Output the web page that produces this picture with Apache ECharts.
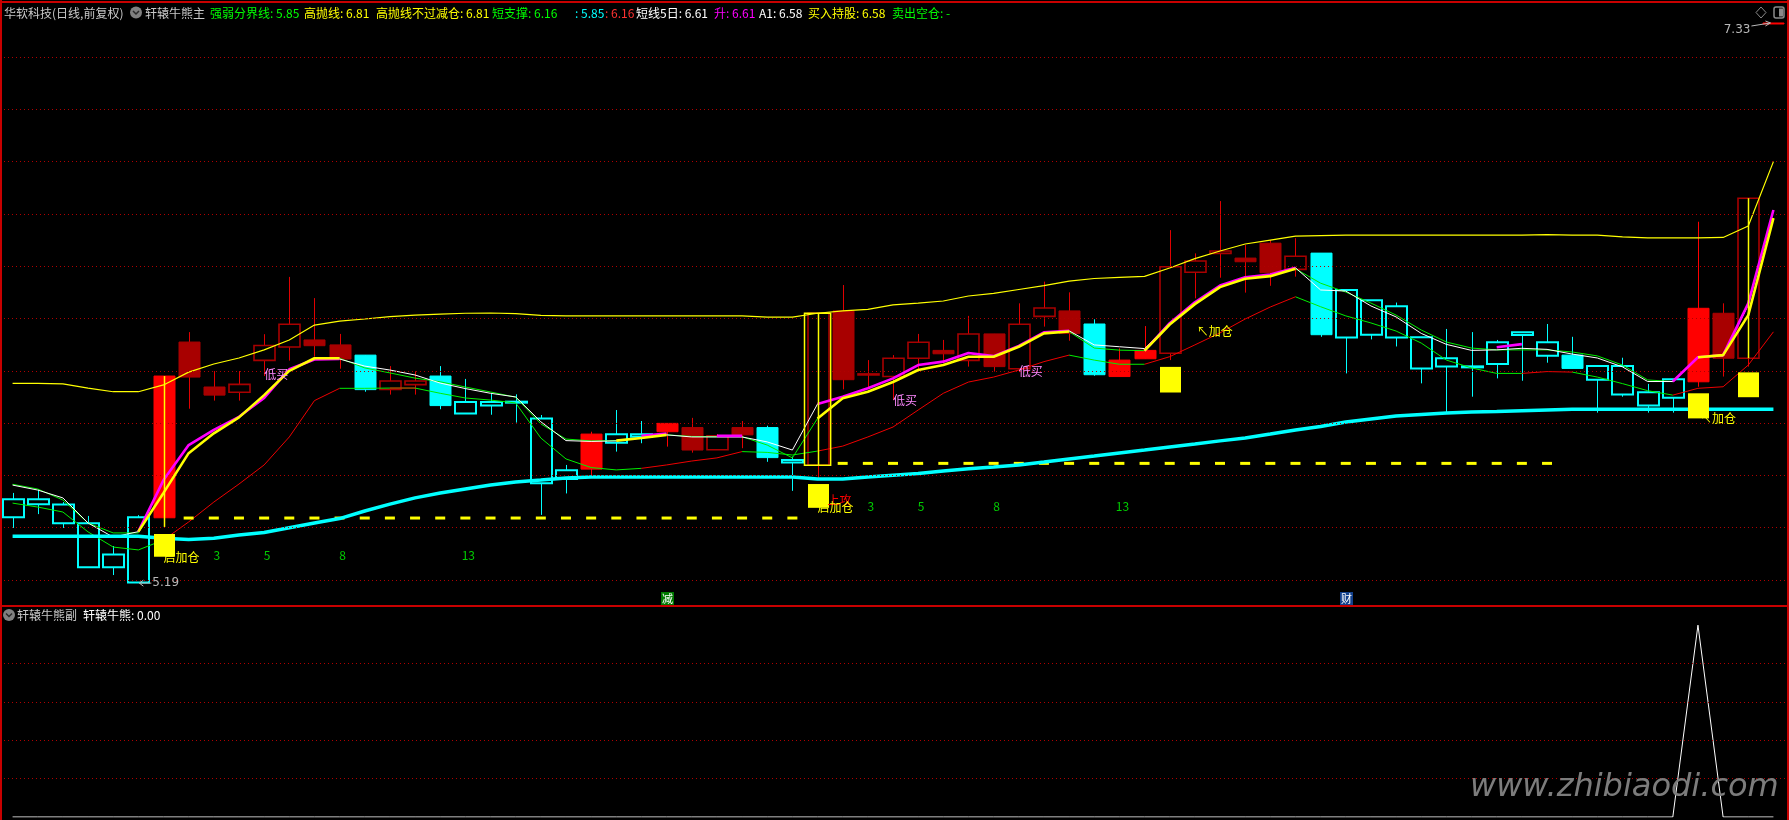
<!DOCTYPE html>
<html>
<head>
<meta charset="utf-8">
<script src="https://cdn.jsdelivr.net/npm/echarts@6.0.0/dist/echarts.min.js"></script>
<style>
html,body{margin:0;padding:0;background:#000;overflow:hidden;}
#chart{width:1789px;height:820px;}
</style>
</head>
<body>
<div id="chart"></div>
<script>
// ---------------- data ----------------
const days = Array.from({length: 71}, (_, i) => 'D' + (i + 1));

const openP = [5.44,5.49,5.417,5.249,5.249,5.19,5.438,6.11,5.938,5.918,
 6.04,6.091,6.118,6.099,6.06,5.929,5.947,5.98,5.837,5.867,
 5.881,5.57,5.586,5.624,5.725,5.748,5.767,5.783,5.698,5.783,
 5.783,5.649,5.639,6.229,5.987,5.978,6.048,6.078,6.04,6.141,
 6.008,6.208,6.229,6.179,5.978,6.046,6.067,6.377,6.449,6.431,
 6.488,6.388,6.45,6.127,6.138,6.127,6.009,6.016,6.016,6.026,
 6.137,6.058,6.06,5.966,5.909,5.867,5.897,5.958,6.22,6.048,
 7.33];
const closeP = [5.509,5.509,5.489,5.417,5.298,5.44,5.98,5.976,5.907,5.948,
 6.097,6.178,6.096,6.045,5.928,5.961,5.961,5.867,5.881,5.881,
 5.882,5.818,5.62,5.758,5.757,5.757,5.799,5.697,5.751,5.755,
 5.668,5.659,6.22,5.966,5.988,6.048,6.109,6.065,6.141,6.016,
 6.178,6.24,6.143,5.985,6.041,6.078,6.398,6.42,6.458,6.417,
 6.375,6.438,6.138,6.309,6.27,6.247,6.128,6.048,6.017,6.109,
 6.147,6.109,6.009,6.018,6.018,5.918,5.968,6.239,6.048,6.66,
 7.33];
const lowP = [5.399,5.452,5.399,5.249,5.219,5.19,5.399,5.855,5.886,5.886,
 5.98,6.039,6.054,6.008,5.92,5.909,5.909,5.853,5.837,5.832,
 5.802,5.449,5.531,5.6,5.691,5.723,5.71,5.687,5.698,5.704,
 5.652,5.541,5.586,5.929,5.937,5.888,5.997,6.029,6.016,5.997,
 5.995,6.169,6.115,5.981,5.978,6.046,6.041,6.277,6.356,6.299,
 6.325,6.36,6.13,5.99,6.12,6.093,5.952,5.84,5.901,5.971,
 5.962,6.031,6.009,5.84,5.901,5.84,5.84,5.939,5.978,6.016,
 7.33];
const highP = [5.533,5.547,5.498,5.445,5.33,5.448,5.98,6.148,5.999,5.999,
 6.14,6.359,6.278,6.141,6.06,6.018,5.998,6.018,5.969,5.914,
 5.91,5.831,5.64,5.767,5.85,5.808,5.799,5.82,5.758,5.808,
 5.79,5.672,6.22,6.328,6.041,6.06,6.141,6.118,6.21,6.141,
 6.258,6.341,6.3,6.197,6.086,6.171,6.538,6.449,6.649,6.481,
 6.5,6.507,6.45,6.309,6.27,6.261,6.128,6.16,6.148,6.118,
 6.147,6.179,6.13,6.018,6.05,5.95,5.968,6.57,6.258,6.66,
 7.33];
// W = weak (cyan), S = strong (dark red), B = breakout (bright red)
const barState = ['W','W','W','W','W','W','B','S','S','S',
 'S','S','S','S','W','S','S','W','W','W',
 'W','W','W','B','W','W','B','S','S','S',
 'W','W','S','S','S','S','S','S','S','S',
 'S','S','S','W','B','B','S','S','S','S',
 'S','S','W','W','W','W','W','W','W','W',
 'W','W','W','W','W','W','W','B','S','S',
 'B'];

// 高抛线
const highSell = [5.952,5.952,5.95,5.934,5.92,5.92,5.946,5.995,6.026,6.049,
 6.08,6.118,6.175,6.19,6.198,6.207,6.213,6.217,6.22,6.221,
 6.219,6.212,6.21,6.21,6.21,6.21,6.21,6.21,6.21,6.21,
 6.205,6.205,6.22,6.229,6.235,6.252,6.259,6.267,6.286,6.296,
 6.311,6.326,6.343,6.353,6.357,6.361,6.393,6.429,6.458,6.485,
 6.5,6.515,6.517,6.519,6.519,6.519,6.519,6.519,6.519,6.519,
 6.519,6.521,6.519,6.519,6.512,6.508,6.508,6.508,6.51,6.554,
 6.8];
// 强弱分界线 (thick cyan)
const strongWeak = [5.367,5.367,5.367,5.367,5.367,5.367,5.36,5.355,5.36,5.372,
 5.382,5.4,5.418,5.435,5.464,5.49,5.514,5.533,5.548,5.563,
 5.575,5.582,5.59,5.594,5.594,5.594,5.594,5.594,5.594,5.594,
 5.594,5.594,5.586,5.586,5.594,5.601,5.607,5.617,5.625,5.632,
 5.64,5.651,5.663,5.674,5.686,5.697,5.709,5.72,5.732,5.743,
 5.758,5.774,5.787,5.804,5.816,5.827,5.833,5.839,5.842,5.844,
 5.847,5.85,5.853,5.853,5.853,5.853,5.853,5.853,5.853,5.853,
 5.853];
// 短支撑 (thin red / green)
const shortSupport = [5.494,5.479,5.46,5.384,5.326,5.315,5.353,5.422,5.498,5.567,
 5.64,5.747,5.886,5.933,5.933,5.934,5.934,5.914,5.896,5.888,
 5.877,5.743,5.663,5.63,5.621,5.627,5.64,5.655,5.667,5.691,
 5.688,5.678,5.693,5.712,5.747,5.785,5.85,5.914,5.957,5.976,
 6.003,6.035,6.06,6.041,6.025,6.025,6.054,6.099,6.145,6.198,
 6.244,6.283,6.245,6.21,6.183,6.152,6.106,6.041,6.011,5.99,
 5.99,5.997,5.995,5.976,5.951,5.924,5.907,5.933,5.939,6.022,
 6.149];
const supportRisingRanges = [[6,13],[15,16],[25,29],[32,42],[45,51],[60,62],[66,70]];
// 短线5日 (white)
const short5 = [5.563,5.544,5.514,5.418,5.364,5.385,5.582,5.716,5.774,5.824,
 5.896,6.006,6.043,6.045,6.018,6.003,5.984,5.953,5.932,5.914,
 5.9,5.805,5.733,5.73,5.732,5.743,5.755,5.747,5.747,5.747,
 5.728,5.697,5.873,5.901,5.933,5.971,6.022,6.035,6.068,6.053,
 6.095,6.147,6.153,6.099,6.092,6.085,6.182,6.262,6.326,6.358,
 6.368,6.394,6.309,6.305,6.248,6.206,6.143,6.101,6.078,6.08,
 6.086,6.082,6.064,6.049,6.015,5.959,5.959,6.052,6.057,6.252,
 6.615];
// A1
const a1 = [5.566,5.548,5.506,5.418,5.38,5.38,5.533,5.685,5.761,5.822,
 5.907,6.0,6.048,6.048,6.011,5.992,5.972,5.958,5.938,5.919,
 5.899,5.797,5.739,5.732,5.733,5.743,5.755,5.749,5.748,5.748,
 5.716,5.667,5.818,5.895,5.92,5.957,6.003,6.022,6.054,6.054,
 6.092,6.143,6.15,6.087,6.079,6.077,6.177,6.255,6.32,6.352,
 6.362,6.39,6.335,6.301,6.259,6.213,6.156,6.11,6.087,6.08,
 6.08,6.08,6.072,6.057,6.022,5.965,5.959,6.052,6.06,6.213,
 6.584];
// 升 (magenta)
const rise = [null,null,null,null,null,5.385,5.582,5.716,5.774,5.824,
 5.896,6.006,6.043,6.045,null,null,null,null,null,null,
 null,null,null,null,null,5.751,5.76,null,5.751,5.751,
 null,null,5.873,5.901,5.933,5.971,6.022,6.035,6.068,6.056,
 6.095,6.147,6.153,null,null,6.077,6.182,6.262,6.326,6.358,
 6.368,6.394,null,null,null,null,null,null,null,6.09,
 6.102,null,null,null,null,null,5.959,6.052,6.06,6.258,
 6.615];
// 买入持股 (thick yellow)
const holdBuy = [null,null,null,null,null,5.385,5.533,5.685,5.761,5.822,
 5.907,6.0,6.048,6.048,null,null,null,null,null,null,
 null,null,null,null,5.733,5.743,5.755,null,null,null,
 null,null,5.818,5.895,5.92,5.957,6.003,6.022,6.054,6.054,
 6.092,6.143,6.15,null,null,6.077,6.177,6.255,6.32,6.352,
 6.362,6.39,null,null,null,null,null,null,null,null,
 null,null,null,null,null,null,null,6.052,6.06,6.213,
 6.584];
// 轩辕牛熊 (sub panel)
const bullBear = [0,0,0,0,0,0,0,0,0,0, 0,0,0,0,0,0,0,0,0,0,
 0,0,0,0,0,0,0,0,0,0, 0,0,0,0,0,0,0,0,0,0,
 0,0,0,0,0,0,0,0,0,0, 0,0,0,0,0,0,0,0,0,0,
 0,0,0,0,0,0,0,5,0,0, 0];

// signal sticks
const stickIdx = [6, 32, 69];
const stickTop = [5.98, 6.22, 6.66];
const stickBottom = [5.403, 5.639, 6.048];
const frameIdx = [32];
const frameTop = [6.22];
const frameBottom = [5.639];
// yellow blocks
const blockIdx = [6, 32, 46, 67, 69];
const blockTop = [5.376, 5.567, 6.015, 5.914, 5.994];
const blockBottom = [5.289, 5.476, 5.917, 5.818, 5.899];
// dashed base lines
const baseLevel = [5.437, 5.646];
const baseStart = [7, 33];
const baseEnd = [31, 61];
// annotations
const noteIdx   = [10, 35, 40, 47, 67, 32, 6, 32, 8, 10, 13, 18, 34, 36, 39, 44];
const notePrice = [5.988, 5.888, 5.997, 6.149, 5.819, 5.506, 5.288, 5.479, 5.293, 5.293, 5.293, 5.293, 5.48, 5.48, 5.48, 5.48];
const noteText  = ['低买','低买','低买','↖加仓','↖加仓','上攻','启加仓','启加仓','3','5','8','13','3','5','8','13'];
const noteKind  = ['low','low','low','add','add','attack','start','start','count','count','count','count','count','count','count','count'];
// info markers at the bottom of the main panel
const infoIdx = [26, 53];
const infoText = ['减', '财'];
const infoKind = ['cut', 'money'];
// grid levels
const mainGridLevels = [5.2,5.4,5.6,5.8,6.0,6.2,6.4,6.6,6.8,7.0,7.2];
const subGridLevels = [1,2,3,4];

// ---------------- build ----------------
const stateCode = {W: 0, S: 1, B: 2};
const candleData = days.map((d, i) => [i, openP[i], closeP[i], lowP[i], highP[i], stateCode[barState[i]]]);
const inRise = i => supportRisingRanges.some(r => i >= r[0] && i <= r[1]);
const supRed = shortSupport.map((v, i) => inRise(i) ? v : null);
const supGreen = shortSupport.map((v, i) => {
  if (!inRise(i)) return v;
  if (supportRisingRanges.some(r => i === r[0] || i === r[1])) return v;
  return null;
});
const dashData = [];
baseLevel.forEach((lv, k) => { for (let i = baseStart[k]; i <= baseEnd[k]; i++) dashData.push([i, lv]); });
const stickData = stickIdx.map((x, k) => [x, stickTop[k], stickBottom[k]]);
const frameData = frameIdx.map((x, k) => [x, frameTop[k], frameBottom[k]]);
const blockData = blockIdx.map((x, k) => [x, blockTop[k], blockBottom[k]]);
const noteData = noteIdx.map((x, k) => [x, notePrice[k]]);
const infoData = infoIdx.map(x => [x, 5.2]);
const extremeData = [[5, lowP[5]], [70, highP[70]]];

const CJK = '"Noto Sans CJK SC", "Noto Sans", sans-serif';

function renderCandle(params, api) {
  const i = api.value(0), o = api.value(1), c = api.value(2), l = api.value(3), h = api.value(4), st = api.value(5);
  const p0 = api.coord([i, o]);
  const xc = Math.round(p0[0]) + 0.5;
  const w = Math.round(api.size([1, 0])[0] * 0.82);
  const yO = p0[1], yC = api.coord([i, c])[1], yL = api.coord([i, l])[1], yH = api.coord([i, h])[1];
  const yTop = Math.min(yO, yC), yBot = Math.max(yO, yC);
  const up = c >= o;
  let stroke, fill, wick, hollow, lw;
  if (st === 0) { stroke = '#00ffff'; wick = '#00ffff'; hollow = up; fill = hollow ? '#000' : '#00ffff'; lw = hollow ? 2 : 1; }
  else if (st === 1) { stroke = '#a80000'; wick = '#e00000'; hollow = up; fill = hollow ? '#000' : '#a80000'; lw = hollow ? 1.6 : 1; }
  else { stroke = '#ff0000'; wick = '#ff0000'; hollow = false; fill = '#ff0000'; lw = 1; }
  const bh = Math.max(yBot - yTop, 1);
  return {
    type: 'group',
    children: [
      {type: 'line', shape: {x1: xc, y1: yH, x2: xc, y2: yL}, style: {stroke: wick, lineWidth: 1}},
      {type: 'rect', shape: {x: xc - w / 2, y: yTop, width: w, height: bh}, style: {fill: fill, stroke: stroke, lineWidth: lw}}
    ]
  };
}
function renderDash(params, api) {
  const p = api.coord([api.value(0), api.value(1)]);
  return {type: 'line', shape: {x1: p[0] - 5, y1: p[1], x2: p[0] + 5, y2: p[1]}, style: {stroke: '#ffff00', lineWidth: 3}};
}
function renderStick(params, api) {
  const a = api.coord([api.value(0), api.value(1)]);
  const b = api.coord([api.value(0), api.value(2)]);
  const x = Math.round(a[0]) + 0.5;
  return {type: 'line', shape: {x1: x, y1: a[1], x2: x, y2: b[1]}, style: {stroke: '#ffff00', lineWidth: 1.5}};
}
function renderFrame(params, api) {
  const a = api.coord([api.value(0), api.value(1)]);
  const b = api.coord([api.value(0), api.value(2)]);
  const w = api.size([1, 0])[0] + 1;
  return {type: 'rect', shape: {x: Math.round(a[0] - w / 2) + 0.5, y: a[1], width: w, height: b[1] - a[1]}, style: {fill: 'transparent', stroke: '#ffff00', lineWidth: 1.5}};
}
function renderBlock(params, api) {
  const a = api.coord([api.value(0), api.value(1)]);
  const b = api.coord([api.value(0), api.value(2)]);
  const w = Math.round(api.size([1, 0])[0] * 0.82);
  return {type: 'rect', shape: {x: Math.round(a[0]) + 0.5 - w / 2, y: a[1], width: w, height: b[1] - a[1]}, style: {fill: '#ffff00'}};
}
const noteStyle = {
  low: {fill: '#ff88ff', align: 'left', dx: 0},
  add: {fill: '#ffff00', align: 'left', dx: 2},
  start: {fill: '#ffff00', align: 'left', dx: 0},
  attack: {fill: '#ff0000', align: 'left', dx: 10},
  count: {fill: '#00cc00', align: 'center', dx: 3}
};
function renderNote(params, api) {
  const k = params.dataIndex;
  const p = api.coord([api.value(0), api.value(1)]);
  const s = noteStyle[noteKind[k]];
  return {type: 'text', x: p[0] + s.dx, y: p[1], style: {text: noteText[k], fill: s.fill, font: '12px ' + CJK, align: s.align, verticalAlign: 'middle'}};
}
function renderInfo(params, api) {
  const k = params.dataIndex;
  const p = api.coord([api.value(0), api.value(1)]);
  const bottom = params.coordSys.y + params.coordSys.height;
  const bg = infoKind[k] === 'cut' ? '#007a00' : '#12408c';
  return {type: 'group', children: [
    {type: 'rect', shape: {x: Math.round(p[0]) - 6, y: bottom - 14, width: 13, height: 13}, style: {fill: bg}},
    {type: 'text', x: Math.round(p[0]) + 0.5, y: bottom - 7.5, style: {text: infoText[k], fill: '#ffffff', font: '11px ' + CJK, align: 'center', verticalAlign: 'middle'}}
  ]};
}
function renderExtreme(params, api) {
  const v = api.value(1);
  const p = api.coord([api.value(0), v]);
  const txt = v.toFixed(2);
  const col = '#b8b8b8';
  if (params.dataIndex === 0) {
    const x = p[0], y = p[1] + 0.5;
    return {type: 'group', children: [
      {type: 'polyline', shape: {points: [[x + 5, y - 3], [x + 1, y], [x + 5, y + 3]]}, style: {stroke: col, fill: 'transparent', lineWidth: 1}},
      {type: 'line', shape: {x1: x + 1, y1: y, x2: x + 13, y2: y}, style: {stroke: col, lineWidth: 1}},
      {type: 'text', x: x + 14, y: y, style: {text: txt, fill: col, font: '12px "DejaVu Sans", sans-serif', align: 'left', verticalAlign: 'middle'}}
    ]};
  }
  const x = p[0], y = p[1];
  return {type: 'group', children: [
    {type: 'text', x: x - 23, y: y + 7, style: {text: txt, fill: col, font: '12px "DejaVu Sans", sans-serif', align: 'right', verticalAlign: 'middle'}},
    {type: 'line', shape: {x1: x - 22, y1: y + 3, x2: x - 3, y2: y}, style: {stroke: col, lineWidth: 1}},
    {type: 'polyline', shape: {points: [[x - 8, y - 2], [x - 3, y], [x - 8, y + 3]]}, style: {stroke: col, fill: 'transparent', lineWidth: 1}}
  ]};
}

function lineSeries(name, data, color, width, z) {
  return {name, type: 'line', data, xAxisIndex: 0, yAxisIndex: 0, symbol: 'none', silent: true,
    connectNulls: false, z, lineStyle: {color, width}, itemStyle: {color}, emphasis: {disabled: true}};
}

const headerItems = [
  ['华软科技(日线,前复权)', 4, '#c8c8c8'],
  ['轩辕牛熊主', 145, '#c8c8c8'],
  ['强弱分界线: 5.85', 210, '#00ff00'],
  ['高抛线: 6.81', 304, '#ffff00'],
  ['高抛线不过减仓: 6.81', 376, '#ffff00'],
  ['短支撑: 6.16', 492, '#00ff00'],
  [': 5.85', 575, '#00ffff'],
  [': 6.16', 605, '#ff3232'],
  ['短线5日: 6.61', 636, '#ffffff'],
  ['升: 6.61', 714, '#ff00ff'],
  ['A1: 6.58', 759, '#ffffff'],
  ['买入持股: 6.58', 808, '#ffff00'],
  ['卖出空仓: -', 892, '#00ff00']
];
const graphics = [];
headerItems.forEach(h => graphics.push({type: 'text', x: h[1], y: 13, z: 100,
  style: {text: h[0], fill: h[2], font: '12px ' + CJK, verticalAlign: 'middle'}}));
function icon(cx, cy) {
  return [
    {type: 'circle', shape: {cx, cy, r: 6}, style: {fill: '#808080'}, z: 100},
    {type: 'polyline', shape: {points: [[cx - 3, cy - 1.5], [cx, cy + 1.5], [cx + 3, cy - 1.5]]}, style: {stroke: '#2a2a2a', fill: 'transparent', lineWidth: 1.5}, z: 101}
  ];
}
graphics.push(...icon(136, 12.5));
graphics.push(...icon(9, 615));
graphics.push({type: 'text', x: 17, y: 615, z: 100, style: {text: '轩辕牛熊副', fill: '#c8c8c8', font: '12px ' + CJK, verticalAlign: 'middle'}});
graphics.push({type: 'text', x: 83, y: 615, z: 100, style: {text: '轩辕牛熊: 0.00', fill: '#ffffff', font: '12px ' + CJK, verticalAlign: 'middle'}});
// borders
graphics.push({type: 'line', z: 99, shape: {x1: 0, y1: 2, x2: 1789, y2: 2}, style: {stroke: '#c80000', lineWidth: 2}});
graphics.push({type: 'line', z: 99, shape: {x1: 0, y1: 606, x2: 1789, y2: 606}, style: {stroke: '#c80000', lineWidth: 2}});
graphics.push({type: 'line', z: 99, shape: {x1: 1, y1: 0, x2: 1, y2: 820}, style: {stroke: '#c80000', lineWidth: 2}});
graphics.push({type: 'line', z: 99, shape: {x1: 1788, y1: 0, x2: 1788, y2: 820}, style: {stroke: '#c80000', lineWidth: 2}});
// top-right icons
graphics.push({type: 'polygon', z: 100, shape: {points: [[1761, 7], [1766, 12.5], [1761, 18], [1756, 12.5]]}, style: {stroke: '#8a8a8a', fill: 'transparent', lineWidth: 1}});
graphics.push({type: 'rect', z: 100, shape: {x: 1774, y: 7, width: 10, height: 11, r: 2}, style: {stroke: '#8a8a8a', fill: 'transparent', lineWidth: 1.5}});
graphics.push({type: 'rect', z: 100, shape: {x: 1779, y: 8.5, width: 4, height: 8}, style: {fill: '#8a8a8a'}});
// watermark
graphics.push({type: 'text', x: 1470, y: 788, z: 100, style: {text: 'www.zhibiaodi.com', fill: '#7c7c7c',
  font: 'italic 32px "DejaVu Sans", sans-serif', verticalAlign: 'middle', shadowColor: 'rgba(0,0,0,0.9)', shadowBlur: 4, shadowOffsetX: 2, shadowOffsetY: 2}});

const option = {
  backgroundColor: '#000000',
  animation: false,
  grid: [
    {left: -1, right: 3, top: 2, height: 604},
    {left: -1, right: 3, top: 606, height: 211}
  ],
  xAxis: [
    {type: 'category', data: days, gridIndex: 0, boundaryGap: true, show: false},
    {type: 'category', data: days, gridIndex: 1, boundaryGap: true, show: false}
  ],
  yAxis: [
    {type: 'value', gridIndex: 0, min: 5.1006, max: 7.4103, show: false, scale: true},
    {type: 'value', gridIndex: 1, min: 0, max: 5.5, show: false}
  ],
  graphic: graphics,
  series: [
    {type: 'line', data: highSell, xAxisIndex: 0, yAxisIndex: 0, symbol: 'none', silent: true, z: 1,
      lineStyle: {opacity: 0, width: 0},
      markLine: {silent: true, symbol: ['none', 'none'], label: {show: false}, animation: false,
        lineStyle: {color: '#b00000', type: [1, 3], width: 1},
        data: mainGridLevels.map(v => ({yAxis: v}))}},
    {type: 'custom', name: 'K', renderItem: renderCandle, data: candleData, xAxisIndex: 0, yAxisIndex: 0, z: 2,
      encode: {x: 0, y: [1, 2, 3, 4]}, silent: true},
    lineSeries('短支撑绿', supGreen, '#00ee00', 1, 3),
    lineSeries('短支撑红', supRed, '#ee0000', 1, 3),
    lineSeries('高抛线', highSell, '#ffff00', 1.2, 3),
    lineSeries('A1', a1, '#00ee00', 1, 3),
    lineSeries('短线5日', short5, '#ffffff', 1, 3),
    lineSeries('强弱分界线', strongWeak, '#00ffff', 3.5, 4),
    {type: 'custom', renderItem: renderDash, data: dashData, xAxisIndex: 0, yAxisIndex: 0, z: 4, encode: {x: 0, y: 1}, silent: true},
    lineSeries('升', rise, '#ff00ff', 2.6, 5),
    lineSeries('买入持股', holdBuy, '#ffff00', 2.6, 5),
    {type: 'custom', renderItem: renderFrame, data: frameData, xAxisIndex: 0, yAxisIndex: 0, z: 6, encode: {x: 0, y: [1, 2]}, silent: true},
    {type: 'custom', renderItem: renderStick, data: stickData, xAxisIndex: 0, yAxisIndex: 0, z: 6, encode: {x: 0, y: [1, 2]}, silent: true},
    {type: 'custom', renderItem: renderBlock, data: blockData, xAxisIndex: 0, yAxisIndex: 0, z: 7, encode: {x: 0, y: [1, 2]}, silent: true},
    {type: 'custom', renderItem: renderNote, data: noteData, xAxisIndex: 0, yAxisIndex: 0, z: 8, encode: {x: 0, y: 1}, silent: true},
    {type: 'custom', renderItem: renderInfo, data: infoData, xAxisIndex: 0, yAxisIndex: 0, z: 8, encode: {x: 0, y: 1}, silent: true},
    {type: 'custom', renderItem: renderExtreme, data: extremeData, xAxisIndex: 0, yAxisIndex: 0, z: 8, encode: {x: 0, y: 1}, silent: true},
    {type: 'line', name: '轩辕牛熊', data: bullBear, xAxisIndex: 1, yAxisIndex: 1, symbol: 'none', silent: true, z: 3,
      lineStyle: {color: '#ffffff', width: 1}, itemStyle: {color: '#ffffff'},
      markLine: {silent: true, symbol: ['none', 'none'], label: {show: false}, animation: false,
        lineStyle: {color: '#b00000', type: [1, 3], width: 1},
        data: subGridLevels.map(v => ({yAxis: v}))}}
  ]
};
const chart = echarts.init(document.getElementById('chart'));
chart.setOption(option);
</script>
</body>
</html>
